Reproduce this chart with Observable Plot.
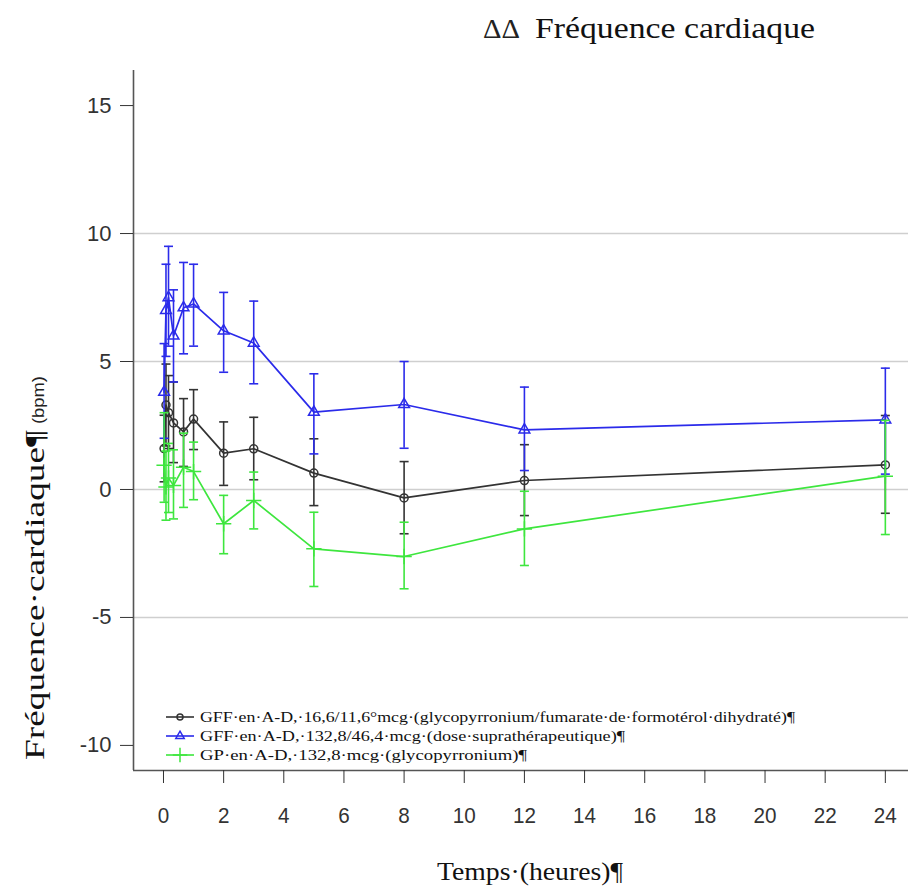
<!DOCTYPE html>
<html><head><meta charset="utf-8">
<script src="https://cdn.jsdelivr.net/npm/d3@7"></script>
<script src="https://cdn.jsdelivr.net/npm/@observablehq/plot@0.6"></script>
<style>
body{margin:0;background:#fff;}
#wrap{position:relative;width:908px;height:890px;overflow:hidden;}
#wrap svg.overlay{position:absolute;left:0;top:0;pointer-events:none;}
</style></head><body><div id="wrap"></div>
<script>
// Time points (hours)
const times = [0.02, 0.083, 0.167, 0.333, 0.667, 1, 2, 3, 5, 8, 12, 24];

// GFF 16,6/11,6 mcg (black)
const gffMean = [1.6, 3.3, 3.0, 2.6, 2.25, 2.75, 1.42, 1.59, 0.64, -0.33, 0.35, 0.96];
const gffLow  = [0.3, 1.7, 1.6, 1.05, 0.9, 1.56, 0.16, 0.38, -0.63, -1.73, -1.02, -0.93];
const gffHigh = [2.9, 4.9, 4.45, 4.2, 3.55, 3.9, 2.64, 2.82, 1.98, 1.09, 1.75, 2.89];

// GFF 132,8/46,4 mcg (blue)
const supraMean = [3.8, 7.0, 7.5, 6.0, 7.1, 7.25, 6.2, 5.72, 3.02, 3.32, 2.33, 2.72];
const supraLow  = [2.0, 5.2, 5.6, 4.2, 5.3, 5.6, 4.58, 4.13, 1.39, 1.61, 0.74, 0.6];
const supraHigh = [5.7, 8.8, 9.5, 7.8, 8.87, 8.8, 7.7, 7.36, 4.52, 5.0, 4.0, 4.74];

// GP 132,8 mcg (green)
const gpMean = [0.95, 0.1, 0.45, 0.16, 0.87, 0.7, -1.34, -0.43, -2.32, -2.62, -1.54, 0.52];
const gpLow  = [-0.5, -1.2, -0.9, -1.15, -0.7, -0.4, -2.51, -1.54, -3.79, -3.88, -2.97, -1.76];
const gpHigh = [3.0, 1.5, 1.8, 1.55, 2.2, 1.85, -0.23, 0.68, -0.89, -1.28, -0.07, 2.7];

const seriesNames = [
  "GFF·en·A-D,·16,6/11,6°mcg·(glycopyrronium/fumarate·de·formotérol·dihydraté)¶",
  "GFF·en·A-D,·132,8/46,4·mcg·(dose·suprathérapeutique)¶",
  "GP·en·A-D,·132,8·mcg·(glycopyrronium)¶"
];
const seriesColors = ["#333333", "#2b2bea", "#3ee63e"];
const seriesSymbols = ["circle", "triangle", "plus"];

const xTicks = [0, 2, 4, 6, 8, 10, 12, 14, 16, 18, 20, 22, 24];
const yTicks = [15, 10, 5, 0, -5, -10];
const gridLines = [10, 5, 0, -5];

const xDomain = [-0.997, 24.77];
const yDomain = [-10.98, 16.37];

function build(mean, lo, hi, s) {
  return times.map((t, i) => ({t, v: mean[i], lo: lo[i], hi: hi[i], s}));
}
const sets = [
  build(gffMean, gffLow, gffHigh, 0),
  build(supraMean, supraLow, supraHigh, 1),
  build(gpMean, gpLow, gpHigh, 2)
];

const cap = {draw(ctx) { ctx.moveTo(-4.5, 0); ctx.lineTo(4.5, 0); }};
const fmt = d => String(d);

const marks = [
  Plot.ruleY(gridLines, {stroke: "#cfcfcf", strokeWidth: 1.6}),
  Plot.ruleX([xDomain[0]], {stroke: "#555", strokeWidth: 1.6}),
  Plot.ruleY([yDomain[0]], {stroke: "#555", strokeWidth: 1.6}),
  Plot.axisY(yTicks, {tickSize: 13, tickPadding: 9, fontSize: 22, color: "#333", label: null, tickFormat: fmt}),
  Plot.axisX(xTicks, {tickSize: 13, tickPadding: 24, fontSize: 22, color: "#333", label: null, tickFormat: fmt})
];
sets.forEach((d, k) => {
  const c = seriesColors[k];
  marks.push(
    Plot.ruleX(d, {x: "t", y1: "lo", y2: "hi", stroke: c, strokeWidth: 1.6}),
    Plot.dot(d, {x: "t", y: "lo", symbol: cap, stroke: c, strokeWidth: 1.6}),
    Plot.dot(d, {x: "t", y: "hi", symbol: cap, stroke: c, strokeWidth: 1.6}),
    Plot.line(d, {x: "t", y: "v", stroke: c, strokeWidth: 1.7}),
    Plot.dot(d, {x: "t", y: "v", symbol: seriesSymbols[k], r: k === 2 ? 5 : 4, stroke: c, strokeWidth: 1.5, fill: "none"})
  );
});

const chart = Plot.plot({
  width: 908,
  height: 890,
  marginLeft: 133,
  marginRight: 0,
  marginTop: 70,
  marginBottom: 120,
  x: {domain: xDomain},
  y: {domain: yDomain},
  style: {fontFamily: "'Liberation Sans', Arial, sans-serif", background: "#fff", color: "#333"},
  marks
});
document.getElementById("wrap").appendChild(chart);
// condense x tick labels like the reference
d3.select(chart).selectAll('g[aria-label="x-axis tick label"] text').each(function() {
  const t = d3.select(this);
  const n = t.text().length;
  t.attr("textLength", n * 11.5).attr("lengthAdjust", "spacingAndGlyphs");
});

const serif = "Liberation Serif, Times New Roman, serif";
// Overlay for titles and legend
const ov = d3.select("#wrap").append("svg").attr("class", "overlay")
  .attr("width", 908).attr("height", 890);

// title
ov.append("text").attr("x", 483).attr("y", 38)
  .attr("font-family", serif).attr("font-size", 27).attr("fill", "#222")
  .attr("textLength", 37).attr("lengthAdjust", "spacingAndGlyphs").text("ΔΔ");
ov.append("text").attr("x", 535).attr("y", 38)
  .attr("font-family", serif).attr("font-size", 30).attr("fill", "#111")
  .attr("textLength", 280).attr("lengthAdjust", "spacingAndGlyphs").text("Fréquence cardiaque");

// y title
const yt = ov.append("g").attr("transform", "translate(44,760) rotate(-90)");
yt.append("text").attr("x", 0).attr("y", 0)
  .attr("font-family", serif).attr("font-size", 27).attr("fill", "#111")
  .attr("textLength", 330).attr("lengthAdjust", "spacingAndGlyphs").text("Fréquence·cardiaque¶");
yt.append("text").attr("x", 336).attr("y", 0)
  .attr("font-family", "Liberation Sans, Arial, sans-serif").attr("font-size", 17).attr("fill", "#222")
  .attr("textLength", 48).attr("lengthAdjust", "spacingAndGlyphs").text("(bpm)");

// x title
ov.append("text").attr("x", 437).attr("y", 880)
  .attr("font-family", serif).attr("font-size", 26).attr("fill", "#111")
  .attr("textLength", 186).attr("lengthAdjust", "spacingAndGlyphs").text("Temps·(heures)¶");

// legend
const legLens = [595, 425, 327];
const legY = [717, 736, 755];
const symPath = [
  d3.symbol(d3.symbolCircle, 28)(),
  d3.symbol(d3.symbolTriangle2, 50)(),
  d3.symbol(d3.symbolPlus, 70)()
];
seriesNames.forEach((name, k) => {
  const g = ov.append("g").attr("transform", `translate(0,${legY[k]})`);
  g.append("line").attr("x1", 166).attr("x2", 194).attr("y1", 0).attr("y2", 0)
    .attr("stroke", seriesColors[k]).attr("stroke-width", 1.6);
  g.append("path").attr("d", symPath[k]).attr("transform", "translate(180,0)")
    .attr("fill", "none").attr("stroke", seriesColors[k]).attr("stroke-width", 1.5);
  g.append("text").attr("x", 200).attr("y", 5)
    .attr("font-family", serif).attr("font-size", 15).attr("fill", "#111")
    .attr("textLength", legLens[k]).attr("lengthAdjust", "spacingAndGlyphs").text(name);
});
</script></body></html>
